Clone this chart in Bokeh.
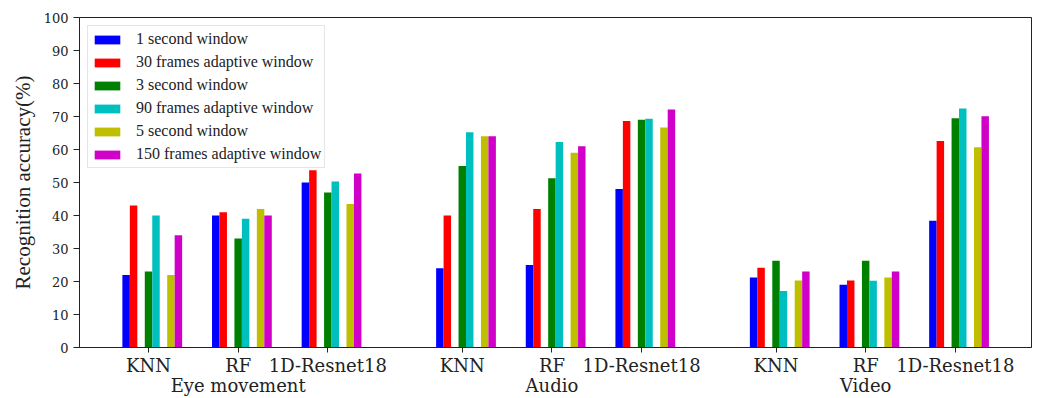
from bokeh.plotting import figure
from bokeh.models import Range1d, FixedTicker, LinearAxis, Legend, LegendItem, ColumnDataSource
from bokeh.embed import file_html
from bokeh.resources import INLINE

modalities = ["Eye movement", "Audio", "Video"]
models = ["KNN", "RF", "1D-Resnet18"]
series_names = ["1 second window", "30 frames adaptive window", "3 second window",
                "90 frames adaptive window", "5 second window", "150 frames adaptive window"]
colors = ["#0000ff", "#ff0000", "#008000", "#00bfbf", "#bfbf00", "#d000c8"]

# values per category: Eye(KNN, RF, Resnet), Audio(KNN, RF, Resnet), Video(KNN, RF, Resnet)
win_1s = [22, 40, 50, 24, 25, 48, 21.2, 19, 38.4]
frames_30 = [43, 41, 53.7, 40, 42, 68.6, 24.2, 20.3, 62.6]
win_3s = [23, 33, 47, 55, 51.3, 69, 26.3, 26.3, 69.5]
frames_90 = [40, 39, 50.3, 65.2, 62.3, 69.3, 17.1, 20.2, 72.4]
win_5s = [22, 42, 43.5, 64, 59, 66.7, 20.3, 21.2, 60.7]
frames_150 = [34, 40, 52.7, 64, 61, 72.1, 23, 23, 70.1]
all_series = [win_1s, frames_30, win_3s, frames_90, win_5s, frames_150]

yticks = list(range(0, 101, 10))

# category centers: 3 models per modality, 1.5 units between modality blocks
centers = []
for gi in range(len(modalities)):
    for mi in range(len(models)):
        centers.append(gi * 3.5 + mi)

w = 1.0 / 12
offsets = [-3 * w, -2 * w, 0, w, 3 * w, 4 * w]

p = figure(width=1037, height=398, output_backend="svg", toolbar_location=None,
           x_range=Range1d(-0.77, 9.85), y_range=Range1d(0, 100),
           min_border_left=79, min_border_right=6, min_border_top=17, min_border_bottom=50)
p.background_fill_color = "white"
p.border_fill_color = "white"
p.outline_line_color = "#222222"
p.outline_line_width = 1
p.xgrid.visible = False
p.ygrid.visible = False

items = []
for name, vals, col, off in zip(series_names, all_series, colors, offsets):
    src = ColumnDataSource(dict(x=[c + off for c in centers], top=vals))
    r = p.vbar(x="x", top="top", width=w, bottom=0, source=src,
               fill_color=col, line_color=None)
    items.append(LegendItem(label=name, renderers=[r]))

# y axis
p.yaxis.ticker = FixedTicker(ticks=yticks)
p.yaxis.minor_tick_line_color = None
p.yaxis.major_tick_out = 6
p.yaxis.major_tick_in = 0
p.yaxis.major_label_standoff = 5
p.yaxis.major_label_text_font = "DejaVu Serif"
p.yaxis.major_label_text_font_size = "13px"
p.yaxis.major_label_text_color = "#222222"
p.yaxis.axis_line_color = "#222222"
p.yaxis.major_tick_line_color = "#222222"
p.yaxis.axis_label = "Recognition accuracy(%)"
p.yaxis.axis_label_text_font = "Liberation Serif"
p.yaxis.axis_label_text_font_size = "21px"
p.yaxis.axis_label_text_font_style = "normal"
p.yaxis.axis_label_text_color = "#222222"
p.yaxis.axis_label_standoff = 6

# x axis (models)
labels = {}
for i, c in enumerate(centers):
    labels[c] = models[i % 3]
p.xaxis.ticker = FixedTicker(ticks=centers)
p.xaxis.major_label_overrides = labels
p.xaxis.minor_tick_line_color = None
p.xaxis.major_tick_out = 5
p.xaxis.major_tick_in = 0
p.xaxis.major_label_standoff = 2
p.xaxis.major_label_text_font = "DejaVu Serif"
p.xaxis.major_label_text_font_size = "18px"
p.xaxis.major_label_text_color = "#222222"
p.xaxis.axis_line_color = "#222222"
p.xaxis.major_tick_line_color = "#222222"

# second x axis (modalities)
gcenters = [gi * 3.5 + 1 for gi in range(len(modalities))]
ax2 = LinearAxis(ticker=FixedTicker(ticks=gcenters),
                 major_label_overrides={c: m for c, m in zip(gcenters, modalities)})
ax2.axis_line_color = None
ax2.major_tick_line_color = None
ax2.minor_tick_line_color = None
ax2.major_tick_out = 0
ax2.major_tick_in = 0
ax2.major_label_standoff = -4
ax2.major_label_text_font = "DejaVu Serif"
ax2.major_label_text_font_size = "18px"
ax2.major_label_text_color = "#222222"
p.add_layout(ax2, "below")

legend = Legend(items=items, location="top_left")
legend.margin = 8
legend.padding = 3
legend.spacing = 3
legend.glyph_width = 32
legend.glyph_height = 11
legend.label_height = 20
legend.label_standoff = 13
legend.label_text_font = "Liberation Serif"
legend.label_text_font_size = "16px"
legend.label_text_color = "#222222"
legend.border_line_color = "#cccccc"
legend.border_line_width = 1
legend.background_fill_color = "white"
legend.background_fill_alpha = 1.0
p.add_layout(legend)

open("out.html", "w").write(file_html(p, INLINE))
